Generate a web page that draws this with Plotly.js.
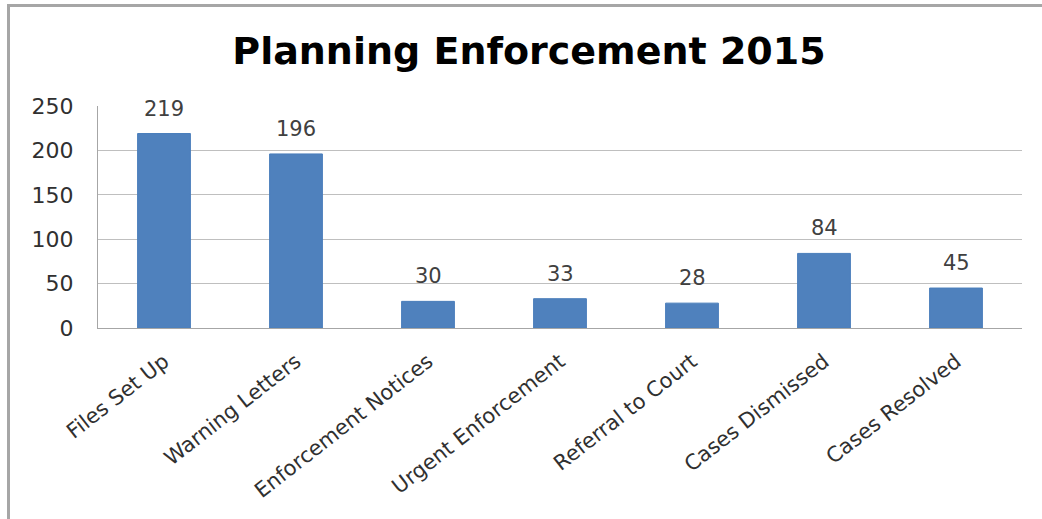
<!DOCTYPE html>
<html>
<head>
<meta charset="utf-8">
<script src="https://cdn.plot.ly/plotly-3.0.1.min.js"></script>
<style>
html,body{margin:0;padding:0;background:#fff;}
#frame{position:absolute;left:7px;top:4px;width:1035px;height:515px;border-left:3px solid #a6a6a6;border-top:3px solid #a6a6a6;box-sizing:border-box;}
#chart{position:absolute;left:0;top:0;width:1042px;height:519px;}
</style>
</head>
<body>
<div id="frame"></div>
<div id="chart"></div>
<script>
var categories = ["Files Set Up","Warning Letters","Enforcement Notices","Urgent Enforcement","Referral to Court","Cases Dismissed","Cases Resolved"];
var values = [219,196,30,33,28,84,45];
var yTicks = [0,50,100,150,200,250];

var FONT = 'DejaVu Sans, sans-serif';
var trace = {
  type:'bar', x:categories, y:values,
  marker:{color:'#4F81BD', line:{color:'#4A7EBB', width:1}},
  hoverinfo:'x+y'
};
var annotations = categories.map(function(c,i){
  return {x:c, y:values[i], xref:'x', yref:'y', text:String(values[i]), showarrow:false,
    yanchor:'bottom', yshift:11, font:{family:FONT, size:21, color:'#404040'}};
});
var layout = {
  width:1042, height:519,
  paper_bgcolor:'rgba(0,0,0,0)', plot_bgcolor:'rgba(0,0,0,0)',
  margin:{l:98, r:20, t:106, b:191},
  title:{text:'<b>Planning Enforcement 2015</b>', x:529/1042, xanchor:'center', y:1-51/519, yanchor:'middle',
    font:{family:FONT, size:38, color:'#000'}},
  bargap:0.6,
  showlegend:false,
  annotations:annotations,
  xaxis:{tickangle:-38, tickfont:{family:FONT, size:21, color:'#303030'}, ticklabelstandoff:12,
    showline:true, linecolor:'#a6a6a6', linewidth:1, ticks:'', showgrid:false},
  yaxis:{range:[0,250], tickvals:yTicks, ticktext:yTicks.map(String), showgrid:true, gridcolor:'#bfbfbf', gridwidth:1,
    showline:true, linecolor:'#a6a6a6', linewidth:1, zeroline:false, ticks:'', ticklen:0, ticklabelstandoff:19,
    tickfont:{family:FONT, size:22, color:'#303030'}}
};
Plotly.newPlot('chart',[trace],layout,{displayModeBar:false, staticPlot:true});
</script>
</body>
</html>
